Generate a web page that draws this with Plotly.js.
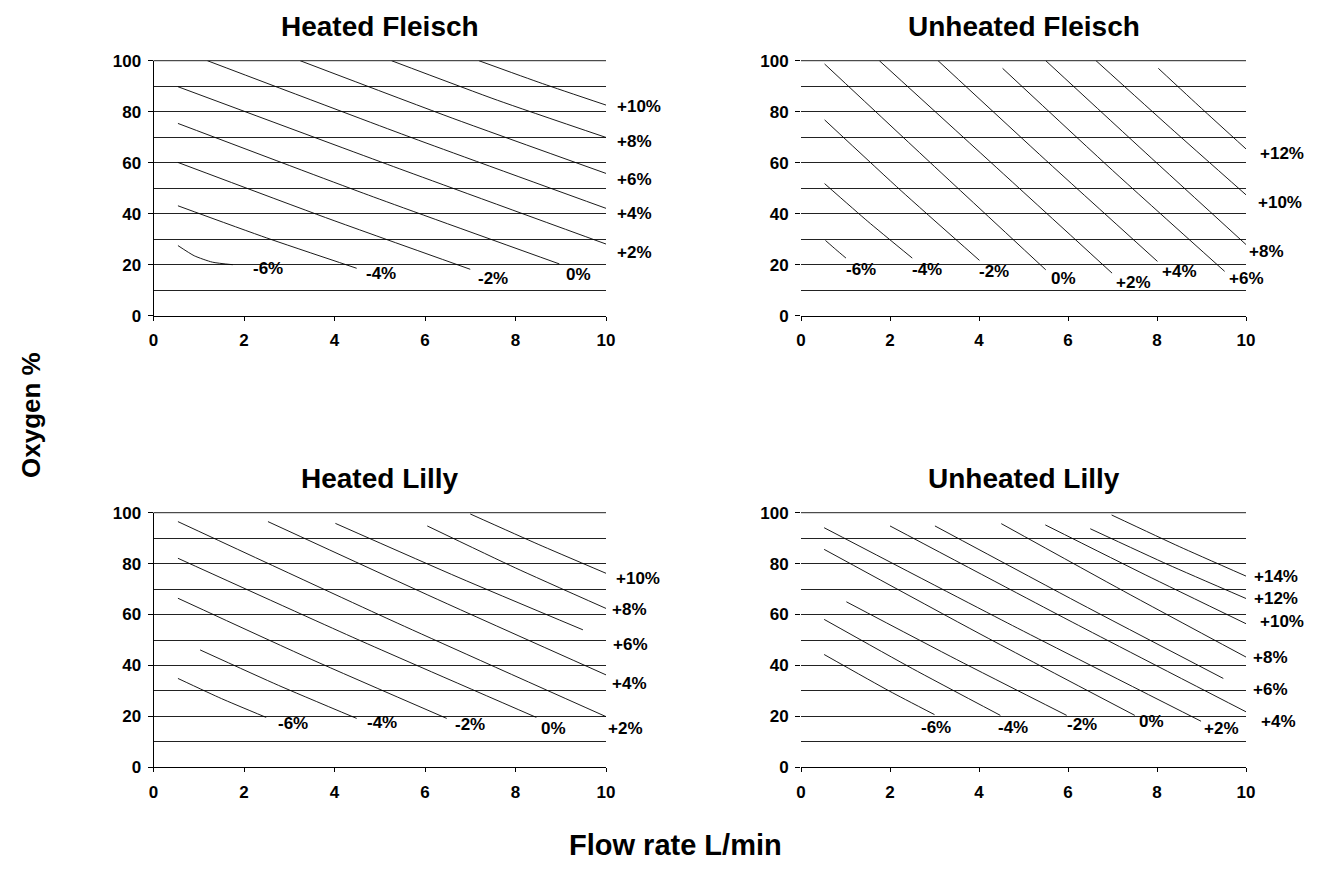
<!DOCTYPE html>
<html><head><meta charset="utf-8">
<script src="https://cdn.plot.ly/plotly-3.0.1.min.js"></script>
<style>html,body{margin:0;padding:0;background:#fff}#chart{width:1323px;height:883px}</style>
</head><body><div id="chart"></div>
<script>
const panelTitles = ['Heated Fleisch', 'Unheated Fleisch', 'Heated Lilly', 'Unheated Lilly'];
const xTitle = 'Flow rate L/min';
const yTitle = 'Oxygen %';
const xTickVals = [0, 2, 4, 6, 8, 10];
const yTickVals = [0, 20, 40, 60, 80, 100];

// ---- Heated Fleisch ----
const hfNames = ['-6%', '-4%', '-2%', '0%', '+2%', '+4%', '+6%', '+8%', '+10%'];
const hfX = [[0.54, 0.9, 1.3, 1.75], [0.54, 2.5, 4.49], [0.54, 3.8, 7.0], [0.54, 4.75, 8.97], [0.54, 5.3, 10], [1.19, 5.6, 10], [3.24, 6.6, 10], [5.26, 7.6, 10], [7.19, 8.6, 10]];
const hfY = [[27.5, 23.5, 21, 20], [43.1, 30.5, 18.6], [60.1, 38.5, 18.2], [75.4, 47.3, 20.3], [89.8, 58.5, 28.1], [100, 70.5, 42.1], [100, 77.5, 55.8], [100, 84.5, 69.9], [100, 91, 82.6]];
const hfLabelX = [2.53, 5.02, 7.5, 9.4, 10.62, 10.62, 10.62, 10.62, 10.72];
const hfLabelY = [18.6, 16.6, 14.6, 16, 24.8, 40.1, 53.5, 68.2, 82];

// ---- Unheated Fleisch ----
const ufNames = ['-6%', '-4%', '-2%', '0%', '+2%', '+4%', '+6%', '+8%', '+10%', '+12%'];
const ufX = [[0.55, 0.78, 1.01], [0.53, 1.5, 2.5], [0.53, 2.25, 4.01], [0.53, 3.0, 5.5], [1.76, 4.4, 6.99], [3.08, 5.5, 8.01], [4.53, 7.0, 9.52], [5.5, 7.75, 10], [6.63, 8.3, 10], [8.03, 9.0, 10]];
const ufY = [[29.5, 26, 22.6], [51.8, 37, 22.6], [76.8, 49, 21.7], [98.7, 58.5, 18], [100, 58, 16.7], [100, 61, 21.3], [97, 57, 17.4], [100, 63.8, 27.9], [100, 73.7, 47.4], [97, 81.3, 65.4]];
const ufLabelX = [1.35, 2.84, 4.33, 5.9, 7.47, 8.5, 10.0, 10.45, 10.76, 10.82];
const ufLabelY = [18, 18, 17.4, 14.5, 13.2, 17.4, 14.5, 25, 44.3, 63.7];

// ---- Heated Lilly ----
const hlNames = ['-6%', '-4%', '-2%', '0%', '+2%', '+4%', '+6%', '+8%', '+10%'];
const hlX = [[0.54, 1.5, 2.49], [1.03, 2.76, 4.49], [0.54, 3.5, 6.48], [0.54, 4.5, 8.46], [0.54, 5.27, 10], [2.53, 6.27, 10], [4.02, 6.75, 9.49], [6.05, 8.0, 10], [7.0, 8.5, 10]];
const hlY = [[34.9, 27, 19.6], [46.1, 32.2, 19.2], [66.4, 42.3, 19.2], [82.1, 50.3, 19.6], [96.5, 57.6, 19.9], [96.5, 66, 36.3], [95.8, 74.5, 54], [94.8, 78.3, 62.4], [99.5, 87.6, 76.2]];
const hlLabelX = [3.08, 5.06, 7.0, 8.85, 10.43, 10.52, 10.55, 10.52, 10.7];
const hlLabelY = [17.3, 17.5, 17, 15.3, 15.3, 33, 48.4, 62, 74];

// ---- Unheated Lilly ----
const ulNames = ['-6%', '-4%', '-2%', '0%', '+2%', '+4%', '+6%', '+8%', '+10%', '+12%', '+14%'];
const ulX = [[0.52, 1.99, 3.0], [0.52, 2.5, 4.48], [1.02, 3.5, 5.97], [0.52, 4.0, 7.5], [0.52, 4.75, 8.99], [2.0, 6.0, 10], [3.01, 6.25, 9.49], [4.5, 7.25, 10], [5.49, 7.75, 10], [6.5, 8.25, 10], [6.98, 8.5, 10]];
const ulY = [[44.3, 29.9, 20.7], [58.1, 38.8, 20.4], [65.0, 42.3, 20.4], [85.6, 52.6, 20.4], [94.1, 55.7, 18.1], [94.8, 57.9, 21.8], [94.8, 64.5, 34.9], [95.7, 69.2, 43.3], [95.2, 75.5, 56.4], [93.7, 79.6, 66.3], [99.1, 86.7, 75.1]];
const ulLabelX = [3.04, 4.77, 6.32, 7.88, 9.46, 10.72, 10.54, 10.54, 10.8, 10.67, 10.67];
const ulLabelY = [15.7, 15.7, 16.8, 18.1, 15.2, 18.1, 30.5, 43, 57.1, 66.3, 75.1];

const xRange = [0, 10];
const yRange = [0, 100];

const panels = [
  {names: hfNames, xs: hfX, ys: hfY, lx: hfLabelX, ly: hfLabelY, s: '', yline: true},
  {names: ufNames, xs: ufX, ys: ufY, lx: ufLabelX, ly: ufLabelY, s: '2', yline: false},
  {names: hlNames, xs: hlX, ys: hlY, lx: hlLabelX, ly: hlLabelY, s: '3', yline: true},
  {names: ulNames, xs: ulX, ys: ulY, lx: ulLabelX, ly: ulLabelY, s: '4', yline: false}
];

const FONT = 'Liberation Sans, Arial, Helvetica, sans-serif';
const W = 1323, H = 883;
const xDomains = [[153.5 / W, 606 / W], [801 / W, 1246 / W], [153.5 / W, 606 / W], [801 / W, 1246 / W]];
const yDomains = [[1 - 315.7 / H, 1 - 60.7 / H], [1 - 315.7 / H, 1 - 60.7 / H], [1 - 767.3 / H, 1 - 512.7 / H], [1 - 767.3 / H, 1 - 512.7 / H]];

const traces = [];
const annotations = [];
const shapes = [];
const layout = {
  width: W, height: H,
  margin: {l: 0, r: 0, t: 0, b: 0},
  paper_bgcolor: '#fff', plot_bgcolor: 'rgba(0,0,0,0)',
  showlegend: false,
  font: {family: FONT, color: '#000'},
  annotations: annotations,
  shapes: shapes
};

panels.forEach((p, i) => {
  p.names.forEach((nm, j) => {
    traces.push({
      type: 'scatter', mode: 'lines', name: nm,
      x: p.xs[j], y: p.ys[j],
      xaxis: 'x' + p.s, yaxis: 'y' + p.s,
      line: {color: '#000', width: 0.9, shape: 'spline', smoothing: 0.6},
      hoverinfo: 'name'
    });
    // series label (may sit to the right of the axis end, so placed in axis-domain units)
    annotations.push({
      text: nm,
      xref: 'x' + p.s + ' domain', yref: 'y' + p.s + ' domain',
      x: (p.lx[j] - xRange[0]) / (xRange[1] - xRange[0]),
      y: (p.ly[j] - yRange[0]) / (yRange[1] - yRange[0]),
      xanchor: 'center', yanchor: 'middle', showarrow: false,
      font: {family: FONT, size: 17, weight: 'bold', color: '#000'}
    });
  });
  // top (100) gridline, which Plotly omits at the range end
  shapes.push({
    type: 'line', xref: 'x' + p.s + ' domain', yref: 'paper',
    x0: 0, x1: 1, y0: yDomains[i][1], y1: yDomains[i][1], line: {color: '#222', width: 1}, layer: 'below'
  });
  layout['xaxis' + p.s] = {
    domain: xDomains[i], anchor: 'y' + p.s, range: xRange,
    tickvals: xTickVals, ticks: 'outside', ticklen: 4, tickcolor: '#000', tickwidth: 1,
    showline: true, linecolor: '#000', linewidth: 1, showgrid: false, zeroline: false,
    tickfont: {family: FONT, size: 17, weight: 'bold', color: '#000'}, ticklabelstandoff: 5,
    fixedrange: true
  };
  layout['yaxis' + p.s] = {
    domain: yDomains[i], anchor: 'x' + p.s, range: yRange,
    tickvals: yTickVals, ticks: 'outside', ticklen: 5, tickcolor: '#000', tickwidth: 1,
    showline: p.yline, linecolor: '#000', linewidth: 1,
    showgrid: true, gridcolor: '#222', gridwidth: 1, zeroline: false,
    minor: {dtick: 10, tick0: 0, showgrid: true, gridcolor: '#222', gridwidth: 1, ticks: ''},
    tickfont: {family: FONT, size: 17, weight: 'bold', color: '#000'}, ticklabelstandoff: 3,
    fixedrange: true
  };
  annotations.push({
    text: panelTitles[i], xref: 'paper', yref: 'paper',
    x: (xDomains[i][0] + xDomains[i][1]) / 2, y: yDomains[i][1] + 34 / H,
    xanchor: 'center', yanchor: 'middle', showarrow: false,
    font: {family: FONT, size: 28, weight: 'bold', color: '#000'}
  });
});

annotations.push({
  text: yTitle, xref: 'paper', yref: 'paper', x: 31 / W, y: 1 - 415 / H,
  textangle: -90, xanchor: 'center', yanchor: 'middle', showarrow: false,
  font: {family: FONT, size: 26, weight: 'bold', color: '#000'}
});
annotations.push({
  text: xTitle, xref: 'paper', yref: 'paper', x: 675 / W, y: 1 - 845 / H,
  xanchor: 'center', yanchor: 'middle', showarrow: false,
  font: {family: FONT, size: 29, weight: 'bold', color: '#000'}
});

Plotly.newPlot('chart', traces, layout, {displayModeBar: false, staticPlot: true});
</script>
</body></html>
